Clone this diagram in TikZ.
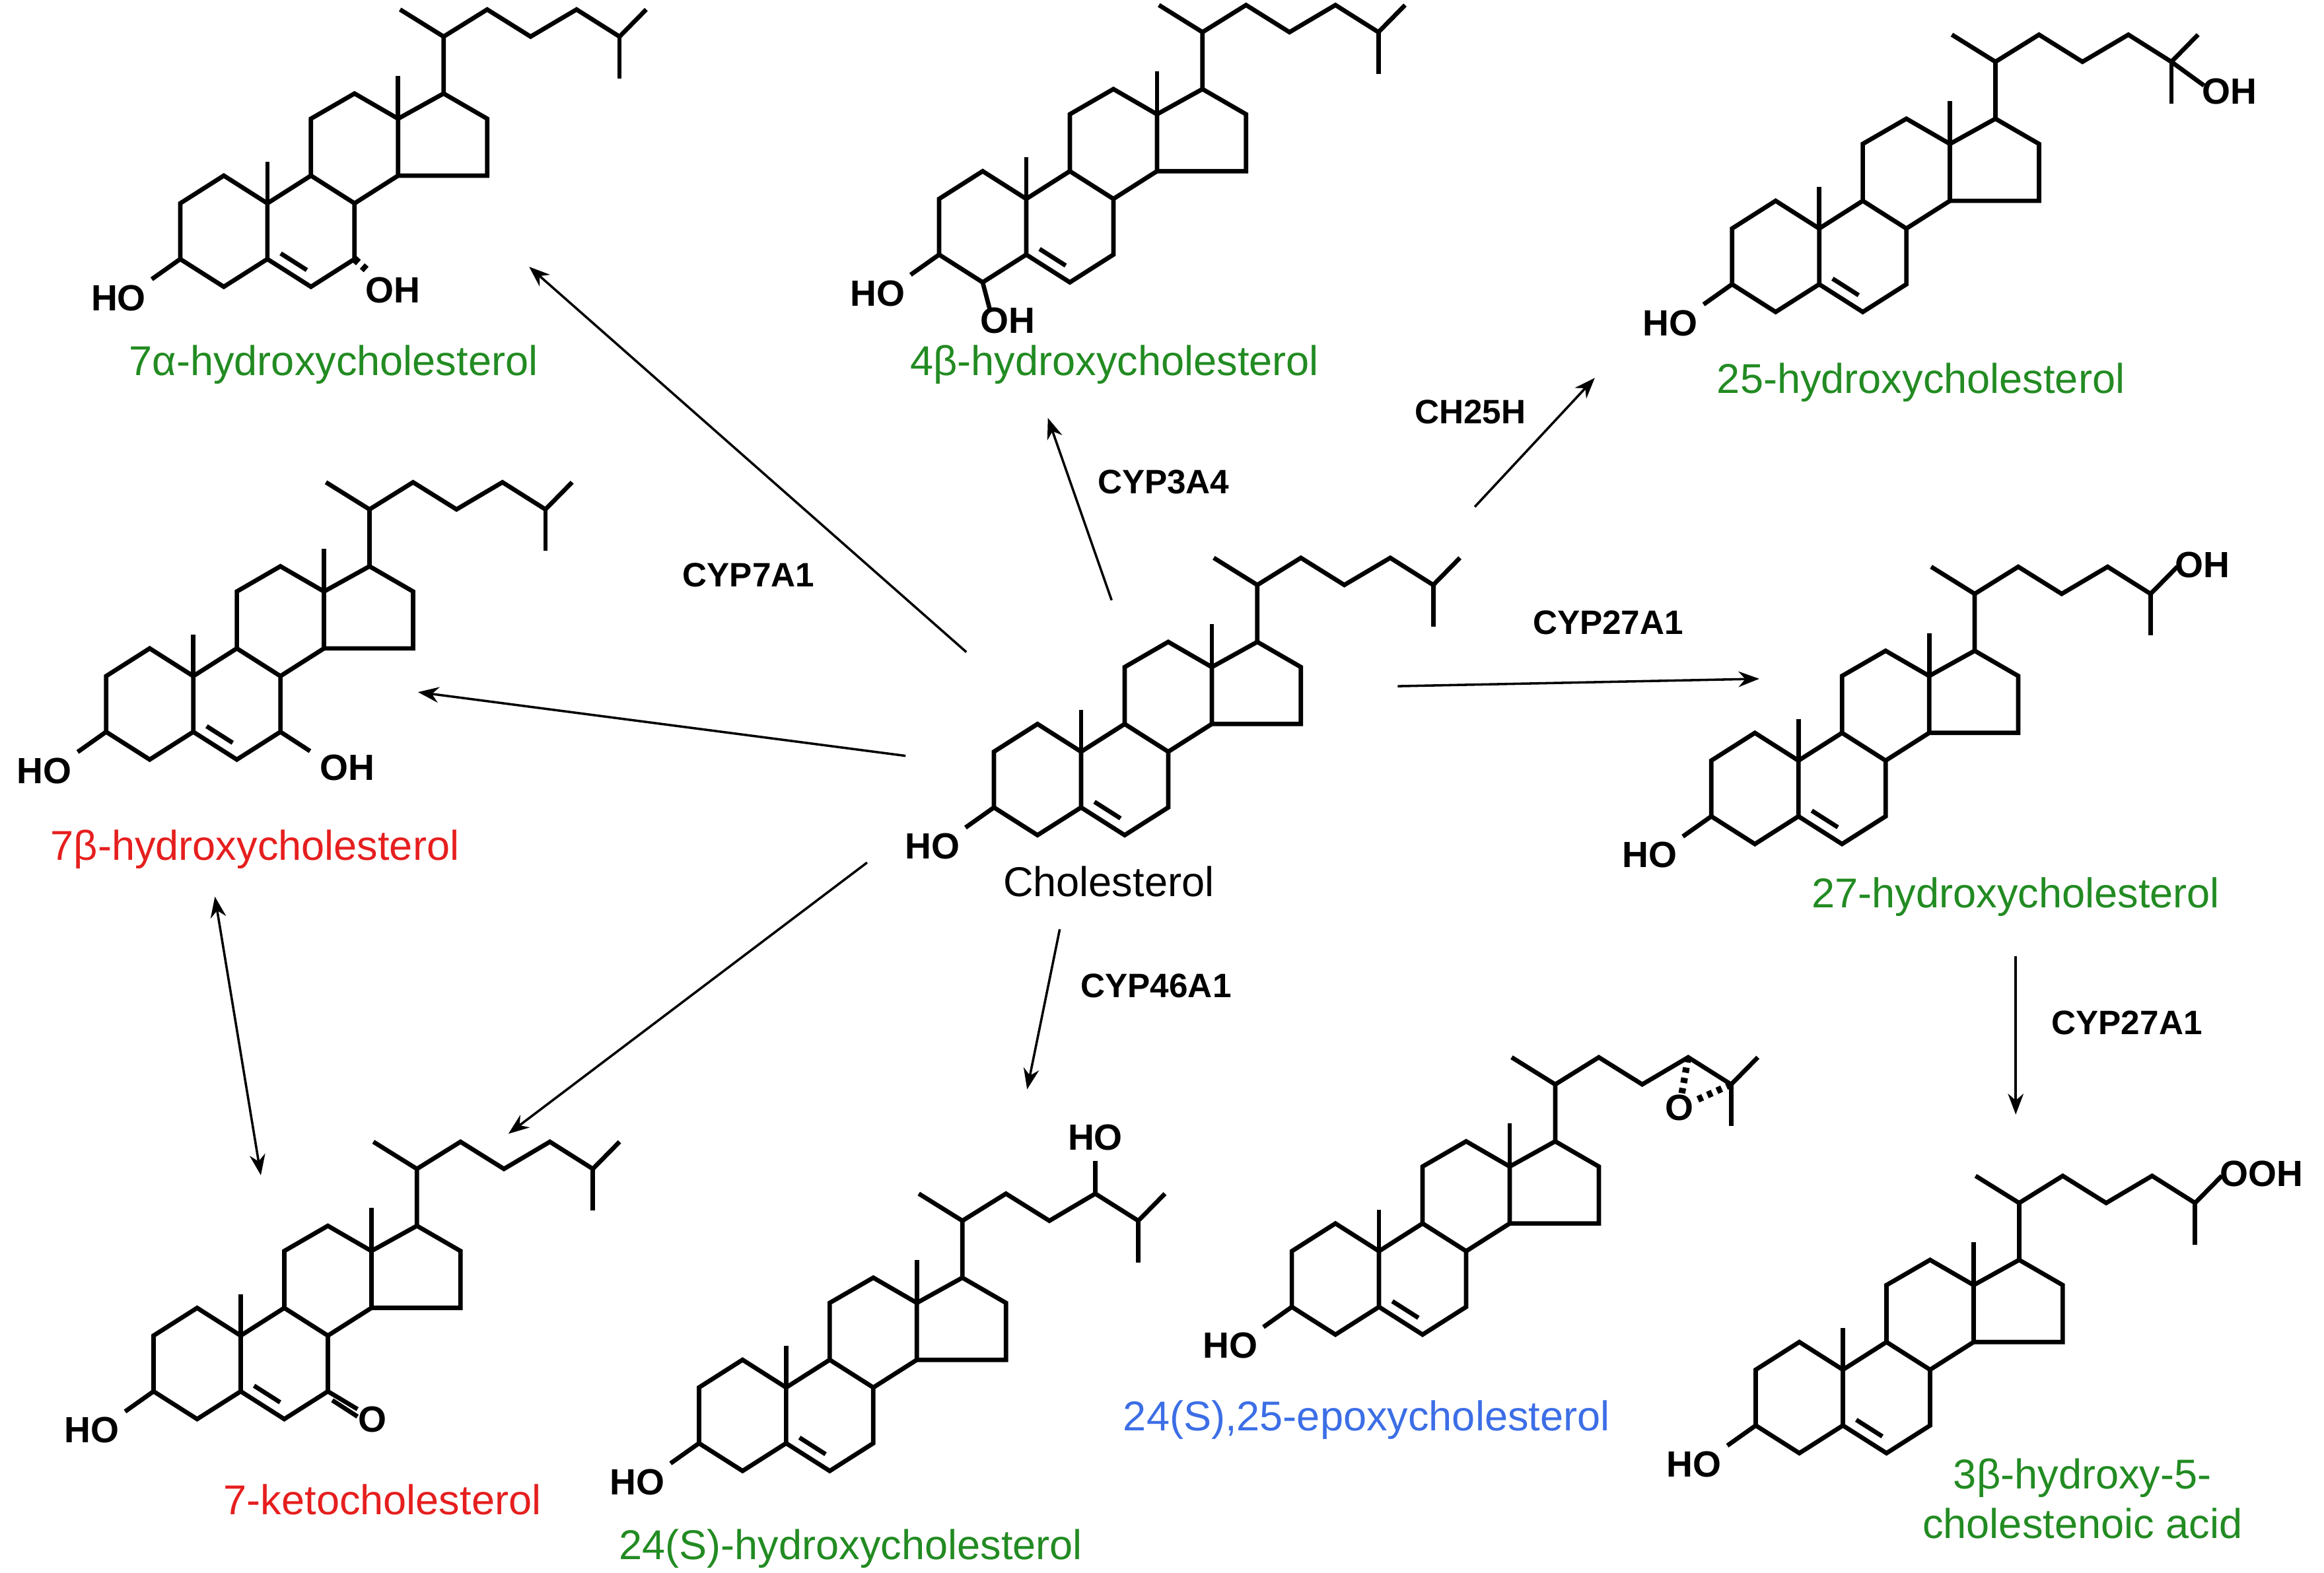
\documentclass[tikz,border=0pt]{standalone}
\usepackage{fontspec}
\setmainfont{Liberation Sans}
\usetikzlibrary{calc,arrows.meta}

\definecolor{namegreen}{RGB}{34,139,34}
\definecolor{namered}{RGB}{230,30,30}
\definecolor{nameblue}{RGB}{60,110,230}

% sterol skeleton, ring A centred at (#2,#3)
\newcommand{\sterol}[3]{%
  \begin{scope}[shift={(#2,#3)}]
    \coordinate (#1-1) at (0,0.375);
    \coordinate (#1-2) at (-0.294,0.188);
    \coordinate (#1-3) at (-0.294,-0.188);
    \coordinate (#1-4) at (0,-0.375);
    \coordinate (#1-5) at (0.294,-0.188);
    \coordinate (#1-6) at (0.588,-0.375);
    \coordinate (#1-7) at (0.882,-0.188);
    \coordinate (#1-8) at (0.882,0.188);
    \coordinate (#1-9) at (0.588,0.375);
    \coordinate (#1-10) at (0.294,0.188);
    \coordinate (#1-11) at (0.588,0.759);
    \coordinate (#1-12) at (0.882,0.929);
    \coordinate (#1-13) at (1.176,0.759);
    \coordinate (#1-14) at (1.176,0.375);
    \coordinate (#1-15) at (1.777,0.375);
    \coordinate (#1-16) at (1.777,0.759);
    \coordinate (#1-17) at (1.483,0.929);
    \coordinate (#1-18) at (1.176,1.049);
    \coordinate (#1-19) at (0.294,0.469);
    \coordinate (#1-20) at (1.483,1.313);
    \coordinate (#1-21) at (1.189,1.496);
    \coordinate (#1-22) at (1.777,1.496);
    \coordinate (#1-23) at (2.07,1.313);
    \coordinate (#1-24) at (2.38,1.496);
    \coordinate (#1-25) at (2.67,1.313);
    \coordinate (#1-26) at (2.85,1.496);
    \coordinate (#1-27) at (2.67,1.032);
    \draw[bond] (#1-1) -- (#1-2) -- (#1-3) -- (#1-4) -- (#1-5) -- (#1-10) -- cycle;
    \draw[bond] (#1-5) -- (#1-6) -- (#1-7) -- (#1-8) -- (#1-9) -- (#1-10);
    \draw[bond] (#1-9) -- (#1-11) -- (#1-12) -- (#1-13) -- (#1-14) -- (#1-8);
    \draw[bond] (#1-13) -- (#1-17) -- (#1-16) -- (#1-15) -- (#1-14);
    \draw[bond] (#1-10) -- (#1-19);
    \draw[bond] (#1-13) -- (#1-18);
    \draw[bond] (#1-17) -- (#1-20) -- (#1-21);
    \draw[bond] (#1-20) -- (#1-22) -- (#1-23) -- (#1-24) -- (#1-25) -- (#1-26);
    \draw[bond] (#1-25) -- (#1-27);
    % C5=C6
    \draw[bond] (0.384,-0.150) -- (0.560,-0.262);
    % 3-OH
    \draw[bond] (#1-3) -- (-0.486,-0.324);
    \node[atom] (#1-ho) at (-0.71,-0.45) {HO};
  \end{scope}}

\begin{document}
\begin{tikzpicture}[
    bond/.style={line width=0.85pt, line join=miter},
    atom/.style={font=\bfseries\fontsize{7}{8}\selectfont, inner sep=0pt},
    molname/.style={font=\fontsize{8}{9.5}\selectfont, inner sep=0pt},
    enzyme/.style={font=\bfseries\fontsize{6.5}{8}\selectfont, inner sep=0pt},
    reaction/.style={line width=0.45pt, -{Stealth[length=4pt,width=3pt]}},
  ]
  \useasboundingbox (0,0) rectangle (15.68,10.61);

  % molecules
  \sterol{ahc}{1.51}{9.05}
  \sterol{bhc}{6.63}{9.08}
  \sterol{hc25}{11.98}{8.88}
  \sterol{bhc7}{1.01}{5.86}
  \sterol{chol}{7.00}{5.35}
  \sterol{hc27}{11.84}{5.29}
  \sterol{kc}{1.33}{1.41}
  \sterol{hc24}{5.01}{1.06}
  \sterol{ep}{9.01}{1.98}
  \sterol{acid}{12.14}{1.18}

  % substituents
  \draw[bond, dash pattern=on 1pt off 1pt, line width=1.4pt] (ahc-7) -- ($(ahc-7)+(0.10,-0.09)$);
  \node[atom] (ahc-oh) at ($(ahc-7)+(0.26,-0.21)$) {OH};
  \draw[bond] (bhc-4) -- ($(bhc-4)+(0.05,-0.19)$);
  \node[atom] (bhc-oh) at ($(bhc-4)+(0.17,-0.26)$) {OH};
  \draw[bond] (bhc7-7) -- ($(bhc7-7)+(0.20,-0.13)$);
  \node[atom] (bhc7-oh) at ($(bhc7-7)+(0.45,-0.24)$) {OH};
  \draw[bond] (kc-7) -- ($(kc-7)+(0.20,-0.12)$);
  \draw[bond] ($(kc-7)+(0.03,-0.06)$) -- ($(kc-7)+(0.20,-0.17)$);
  \node[atom] (kc-o) at ($(kc-7)+(0.30,-0.19)$) {O};
  \draw[bond] (hc25-25) -- ($(hc25-25)+(0.22,-0.16)$);
  \node[atom, anchor=west] (hc25-oh) at ($(hc25-25)+(0.20,-0.20)$) {OH};
  \node[atom, anchor=south west] (hc27-oh) at ($(hc27-26)+(-0.02,-0.08)$) {OH};
  \node[atom, anchor=south west] (acid-ooh) at ($(acid-26)+(-0.02,-0.08)$) {OOH};
  \draw[bond] (hc24-24) -- ($(hc24-24)+(0,0.22)$);
  \node[atom] (hc24-oh) at ($(hc24-24)+(0,0.38)$) {HO};
  \node[atom] (ep-o) at ($(ep-24)+(-0.06,-0.34)$) {O};
  \draw[bond, dash pattern=on 1pt off 1pt, line width=1.3pt] (ep-24) -- (ep-o);
  \draw[bond, dash pattern=on 1pt off 1pt, line width=1.3pt] (ep-25) -- (ep-o);

  % names
  \node[molname, text=namegreen] (n-ahc) at (2.25,8.15) {7α-hydroxycholesterol};
  \node[molname, text=namegreen] (n-bhc) at (7.52,8.15) {4β-hydroxycholesterol};
  \node[molname, text=namegreen] (n-hc25) at (12.96,8.03) {25-hydroxycholesterol};
  \node[molname, text=namered] (n-bhc7) at (1.72,4.88) {7β-hydroxycholesterol};
  \node[molname] (n-chol) at (7.48,4.66) {Cholesterol};
  \node[molname, text=namegreen] (n-hc27) at (13.60,4.56) {27-hydroxycholesterol};
  \node[molname, text=namered] (n-kc) at (2.58,0.49) {7-ketocholesterol};
  \node[molname, text=namegreen] (n-hc24) at (5.74,0.16) {24(S)-hydroxycholesterol};
  \node[molname, text=nameblue] (n-ep) at (9.22,1.03) {24(S),25-epoxycholesterol};
  \node[molname, text=namegreen, align=center] (n-acid) at (14.05,0.50) {3β-hydroxy-5-\\cholestenoic acid};

  % enzymes
  \node[enzyme] (e-7a1) at (5.05,6.73) {CYP7A1};
  \node[enzyme] (e-3a4) at (7.85,7.36) {CYP3A4};
  \node[enzyme] (e-25h) at (9.92,7.83) {CH25H};
  \node[enzyme] (e-27a1) at (10.85,6.41) {CYP27A1};
  \node[enzyme] (e-46a1) at (7.80,3.96) {CYP46A1};
  \node[enzyme] (e-27b) at (14.35,3.71) {CYP27A1};

  % arrow ends
  \coordinate (s-ahc) at (6.52,6.21);   \coordinate (t-ahc) at (3.57,8.81);
  \coordinate (s-bhc) at (7.50,6.56);   \coordinate (t-bhc) at (7.07,7.79);
  \coordinate (s-hc25) at (9.95,7.19);  \coordinate (t-hc25) at (10.76,8.06);
  \coordinate (s-hc27) at (9.43,5.98);  \coordinate (t-hc27) at (11.87,6.03);
  \coordinate (s-bhc7) at (6.11,5.51);  \coordinate (t-bhc7) at (2.82,5.94);
  \coordinate (s-kc) at (5.85,4.79);    \coordinate (t-kc) at (3.43,2.96);
  \coordinate (s-hc24) at (7.15,4.34);  \coordinate (t-hc24) at (6.93,3.26);
  \coordinate (s-acid) at (13.60,4.16); \coordinate (t-acid) at (13.60,3.09);
  \coordinate (u-bhc7) at (1.45,4.56);  \coordinate (u-kc) at (1.76,2.68);

  \draw[reaction] (s-ahc) -- (t-ahc);
  \draw[reaction] (s-bhc) -- (t-bhc);
  \draw[reaction] (s-hc25) -- (t-hc25);
  \draw[reaction] (s-hc27) -- (t-hc27);
  \draw[reaction] (s-bhc7) -- (t-bhc7);
  \draw[reaction] (s-kc) -- (t-kc);
  \draw[reaction] (s-hc24) -- (t-hc24);
  \draw[reaction] (s-acid) -- (t-acid);
  \draw[reaction, {Stealth[length=4pt,width=3pt]}-{Stealth[length=4pt,width=3pt]}] (u-bhc7) -- (u-kc);
\end{tikzpicture}
\end{document}
